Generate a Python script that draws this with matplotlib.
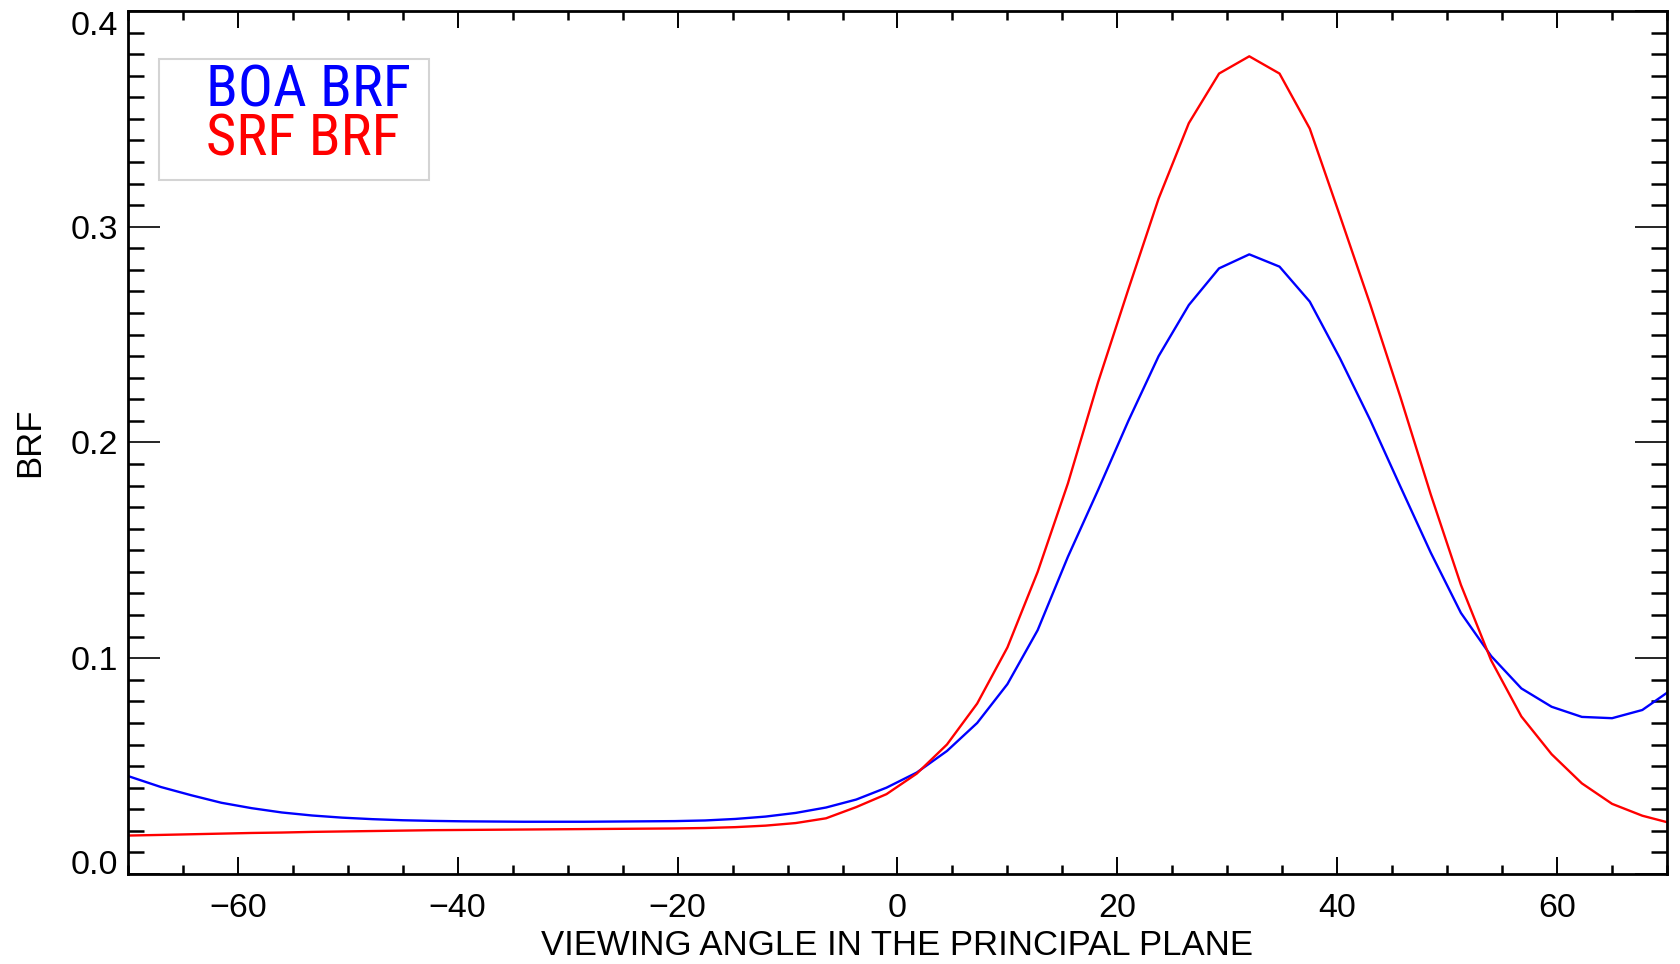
import matplotlib
matplotlib.use("Agg")
import matplotlib.pyplot as plt
from matplotlib.ticker import MultipleLocator, FormatStrFormatter
from matplotlib.patches import Rectangle

# viewing angles in the principal plane (deg)
angle = [-70, -67, -64.25, -61.5, -58.75, -56, -53.25, -50.5, -47.75, -45,
         -42.25, -39.5, -36.75, -34, -31.25, -28.5, -25.75, -23, -20.25, -17.5,
         -14.75, -12, -9.25, -6.5, -3.75, -1, 1.75, 4.5, 7.25, 10,
         12.75, 15.5, 18.25, 21, 23.75, 26.5, 29.25, 32, 34.75, 37.5,
         40.25, 43, 45.75, 48.5, 51.25, 54, 56.75, 59.5, 62.25, 65,
         67.75, 70]

boa_brf = [0.0454, 0.0403, 0.0365, 0.0330, 0.0305, 0.0285, 0.0271, 0.0261, 0.0254, 0.0249,
           0.0246, 0.0244, 0.0243, 0.0242, 0.0242, 0.0242, 0.0243, 0.0244, 0.0245, 0.0248,
           0.0255, 0.0266, 0.0283, 0.0308, 0.0345, 0.0400, 0.0470, 0.0570, 0.0700, 0.0880,
           0.1130, 0.1470, 0.1780, 0.2100, 0.2400, 0.2637, 0.2807, 0.2872, 0.2815, 0.2653,
           0.2390, 0.2104, 0.1795, 0.1490, 0.1210, 0.1010, 0.0860, 0.0775, 0.0728, 0.0722,
           0.0760, 0.0840]

srf_brf = [0.0178, 0.0181, 0.0184, 0.0187, 0.0190, 0.0192, 0.0195, 0.0197, 0.0199, 0.0201,
           0.0203, 0.0204, 0.0205, 0.0206, 0.0207, 0.0208, 0.0209, 0.0210, 0.0211, 0.0213,
           0.0217, 0.0224, 0.0236, 0.0258, 0.0310, 0.0370, 0.0465, 0.0600, 0.0790, 0.1050,
           0.1400, 0.1810, 0.2280, 0.2710, 0.3130, 0.3480, 0.3710, 0.3790, 0.3710, 0.3455,
           0.3050, 0.2640, 0.2210, 0.1760, 0.1340, 0.0990, 0.0730, 0.0555, 0.0420, 0.0325,
           0.0270, 0.0240]

labels = ["BOA BRF", "SRF BRF"]
colors = ["#0000ff", "#ff0000"]

plt.rcParams["font.family"] = ["Liberation Sans", "DejaVu Sans"]

fig = plt.figure(figsize=(16.81, 9.64), dpi=100)
ax = fig.add_axes([0.0761, 0.0934, 0.9156, 0.8952])

ax.plot(angle, boa_brf, color=colors[0], lw=1.7)
ax.plot(angle, srf_brf, color=colors[1], lw=1.7)

ax.set_xlim(-70, 70)
ax.set_ylim(0.0, 0.4)

ax.xaxis.set_major_locator(MultipleLocator(20))
ax.xaxis.set_minor_locator(MultipleLocator(5))
ax.yaxis.set_major_locator(MultipleLocator(0.1))
ax.yaxis.set_minor_locator(MultipleLocator(0.01))
ax.yaxis.set_major_formatter(FormatStrFormatter("%.1f"))

for s in ax.spines.values():
    s.set_linewidth(2.0)

ax.tick_params(axis="both", which="both", direction="in", top=True, right=True,
               labelsize=24.5, color="black")
ax.tick_params(axis="x", which="major", length=12.5, width=1.4, pad=14)
ax.tick_params(axis="x", which="minor", length=6.5, width=1.8)
ax.tick_params(axis="y", which="major", length=23, width=1.2, pad=7)
ax.tick_params(axis="y", which="minor", length=11.5, width=1.8)

# keep the end labels of the y axis inside the frame
fig.canvas.draw()
for tick in ax.yaxis.get_major_ticks():
    if abs(tick.get_loc() - 0.0) < 1e-9:
        tick.label1.set_va("baseline")
    elif abs(tick.get_loc() - 0.4) < 1e-9:
        tick.label1.set_va("top")

ax.set_xlabel("VIEWING ANGLE IN THE PRINCIPAL PLANE", fontsize=25, labelpad=3)
ax.set_ylabel("BRF", fontsize=25)
ax.yaxis.label.set_va("center")
ax.yaxis.set_label_coords(-0.0637, 0.5)

# legend box
ax.add_patch(Rectangle((0.0201, 0.8042), 0.1755, 0.1402, transform=ax.transAxes,
                       facecolor="white", edgecolor="#d4d4d4", lw=1.5, zorder=5))
for i, (lab, c) in enumerate(zip(labels, colors)):
    ax.text(0.0507, 0.8888 - i * 0.0568, lab, transform=ax.transAxes, color=c,
            fontsize=42, family=["Roboto Condensed", "Liberation Sans"],
            va="baseline", ha="left", zorder=6)

fig.savefig("out.png", dpi=100)
